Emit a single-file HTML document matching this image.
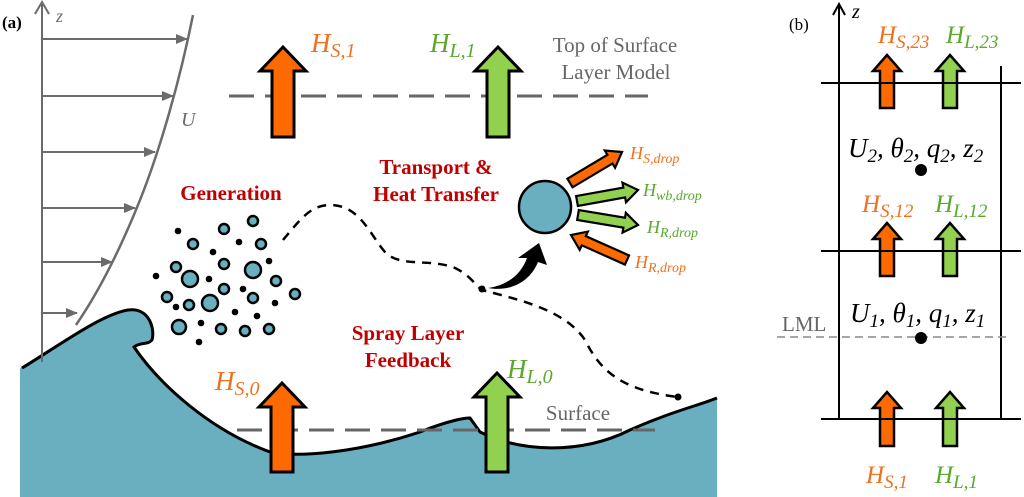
<!DOCTYPE html>
<html><head><meta charset="utf-8"><style>
html,body{margin:0;padding:0;background:#fff}
svg{display:block}
.m{font-family:"Liberation Serif",serif;font-style:italic}
.r{font-family:"Liberation Serif",serif;font-weight:bold;fill:#c00000;font-size:21px}
.g{font-family:"Liberation Serif",serif;fill:#666;font-size:21px}
</style></head><body>
<svg id="s" width="1024" height="497" viewBox="0 0 1024 497" xmlns="http://www.w3.org/2000/svg">
<defs>
<marker id="ga" markerWidth="12" markerHeight="10" refX="11" refY="5" orient="auto" markerUnits="userSpaceOnUse"><path d="M0,0 L12,5 L0,10 Z" fill="#6b6b6b"/></marker>
</defs>
<text x="2" y="28" font-family="Liberation Serif" font-weight="bold" font-size="17">(a)</text>
<path d="M20,368 C60,345 100,315 128,310 C150,307 155,330 152,340 C148,345 140,342 134,347 C160,385 210,430 270,452 C300,458 360,452 420,432 C450,420 465,418 470,418 L480,432 C520,452 580,455 630,430 C670,412 700,405 717,398 L717,497 L20,497 Z" fill="#6aafc0" stroke="none"/>
<path d="M22,368 C60,345 100,315 128,310 C150,307 155,330 152,340 C148,345 140,342 134,347 C160,385 210,430 270,452 C300,458 360,452 420,432 C450,420 465,418 470,418 L480,432 C520,452 580,455 630,430 C670,412 700,405 717,398" fill="none" stroke="#000" stroke-width="3"/>
<line x1="42" y1="362" x2="42" y2="4" stroke="#6b6b6b" stroke-width="2"/>
<path d="M35,14 L42,2 L49,14" fill="none" stroke="#6b6b6b" stroke-width="2"/>
<text class="m" x="56" y="22" font-size="18" fill="#6b6b6b">z</text>
<path d="M193,15 C180,80 160,150 140,200 C120,250 100,290 76,325" fill="none" stroke="#6b6b6b" stroke-width="2.5"/>
<text class="m" x="181" y="126" font-size="20" fill="#6b6b6b">U</text>
<g id="windarrows"></g>
<line x1="229" y1="96" x2="648" y2="96" stroke="#666" stroke-width="3" stroke-dasharray="25,11"/>
<line x1="237" y1="430" x2="655" y2="430" stroke="#666" stroke-width="3" stroke-dasharray="25,11"/>
<text class="g" x="615" y="52" text-anchor="middle">Top of Surface</text>
<text class="g" x="616" y="79" text-anchor="middle">Layer Model</text>
<text class="g" x="578" y="420" text-anchor="middle" font-size="20">Surface</text>
<g id="arrows"></g>
<g id="drops"></g>
<path d="M283,240 C300,220 310,205 330,205 C360,205 370,235 385,252 C400,268 430,258 455,268 C470,275 475,285 482,290 C520,300 565,310 585,340 C600,370 620,390 678,397" fill="none" stroke="#000" stroke-width="2.5" stroke-dasharray="9,7"/>
<circle cx="678" cy="397" r="3.5"/>
<circle cx="482" cy="289" r="3.5"/>
<path d="M488,288 C510,285 522,272 527,258 L518,258 L539,243 L547,265 L538,262 C530,282 510,292 488,288 Z" fill="#000"/>
<circle cx="545" cy="207" r="26" fill="#6aafc0" stroke="#000" stroke-width="2.5"/>
<g id="droparrows"></g>
<text class="m" x="630" y="159" font-size="18" fill="#f07020">H<tspan font-size="14" dy="4">S,drop</tspan></text>
<text class="m" x="643" y="196" font-size="18" fill="#5aa82e">H<tspan font-size="14" dy="4">wb,drop</tspan></text>
<text class="m" x="647" y="233" font-size="18" fill="#5aa82e">H<tspan font-size="14" dy="4">R,drop</tspan></text>
<text class="m" x="635" y="268" font-size="18" fill="#f07020">H<tspan font-size="14" dy="4">R,drop</tspan></text>
<text class="r" x="231" y="200" text-anchor="middle">Generation</text>
<text class="r" x="436" y="174" text-anchor="middle">Transport &amp;</text>
<text class="r" x="436" y="201" text-anchor="middle">Heat Transfer</text>
<text class="r" x="408" y="340" text-anchor="middle">Spray Layer</text>
<text class="r" x="408" y="367" text-anchor="middle">Feedback</text>
<text class="m" x="311" y="52" font-size="27" fill="#f07020">H<tspan font-size="20" dy="5">S,1</tspan></text>
<text class="m" x="430" y="52" font-size="27" fill="#5aa82e">H<tspan font-size="20" dy="5">L,1</tspan></text>
<text class="m" x="215" y="390" font-size="27" fill="#f07020">H<tspan font-size="20" dy="5">S,0</tspan></text>
<text class="m" x="507" y="378" font-size="27" fill="#5aa82e">H<tspan font-size="20" dy="5">L,0</tspan></text>
<text x="789" y="30" font-family="Liberation Serif" font-size="17">(b)</text>
<line x1="839" y1="419" x2="839" y2="5" stroke="#000" stroke-width="2"/>
<path d="M833,15 L839,4 L845,15" fill="none" stroke="#000" stroke-width="2"/>
<text class="m" x="852" y="18" font-size="20">z</text>
<line x1="821" y1="83" x2="1021" y2="83" stroke="#000" stroke-width="2"/>
<line x1="821" y1="251" x2="1021" y2="251" stroke="#000" stroke-width="2"/>
<line x1="821" y1="419" x2="1021" y2="419" stroke="#000" stroke-width="2"/>
<line x1="1001" y1="66" x2="1001" y2="419" stroke="#000" stroke-width="2"/>
<line x1="777" y1="337" x2="1010" y2="337" stroke="#888" stroke-width="1.5" stroke-dasharray="8,5"/>
<text class="g" x="782" y="331" font-size="17">LML</text>
<text class="m" x="848" y="157" font-size="27">U<tspan font-size="19" dy="5">2</tspan><tspan dy="-5">, θ</tspan><tspan font-size="19" dy="5">2</tspan><tspan dy="-5">, q</tspan><tspan font-size="19" dy="5">2</tspan><tspan dy="-5">, z</tspan><tspan font-size="19" dy="5">2</tspan></text>
<circle cx="921" cy="170" r="6"/>
<text class="m" x="850" y="322" font-size="27">U<tspan font-size="19" dy="5">1</tspan><tspan dy="-5">, θ</tspan><tspan font-size="19" dy="5">1</tspan><tspan dy="-5">, q</tspan><tspan font-size="19" dy="5">1</tspan><tspan dy="-5">, z</tspan><tspan font-size="19" dy="5">1</tspan></text>
<circle cx="921" cy="338" r="6"/>
<text class="m" x="878" y="43" font-size="25" fill="#f07020">H<tspan font-size="19" dy="5">S,23</tspan></text>
<text class="m" x="946" y="43" font-size="25" fill="#5aa82e">H<tspan font-size="19" dy="5">L,23</tspan></text>
<text class="m" x="862" y="212" font-size="25" fill="#f07020">H<tspan font-size="19" dy="5">S,12</tspan></text>
<text class="m" x="935" y="212" font-size="25" fill="#5aa82e">H<tspan font-size="19" dy="5">L,12</tspan></text>
<text class="m" x="866" y="483" font-size="25" fill="#f07020">H<tspan font-size="19" dy="5">S,1</tspan></text>
<text class="m" x="935" y="483" font-size="25" fill="#5aa82e">H<tspan font-size="19" dy="5">L,1</tspan></text>
</svg>
<script>
const NS="http://www.w3.org/2000/svg";
const OR="#ff6a00", GR="#92d050";
const windY=[39,96,152,208,262,313];
const windX=[187,173,155,135,112,77];
const bigArrows=[[283,47,137,OR],[498,47,137,GR],[282,383,472,OR],[497,373,472,GR]];
const smallArrows=[[887,55,108,OR],[950,55,108,GR],[887,223,276,OR],[950,223,276,GR],[887,392,446,OR],[950,392,446,GR]];
const dropC=[[253,221,5],[224,229,5],[193,244,5],[261,244,5],[176,267,5],[190,279,8],[224,264,5],[253,270,8],[276,281,5],[167,297,5],[189,305,5],[210,303,8],[224,289,5],[253,298,5],[295,294,5],[179,327,7],[221,329,5],[245,331,5],[269,329,5]];
const dots=[[178,231],[239,242],[213,252],[269,261],[156,276],[209,279],[243,289],[176,307],[235,312],[275,303],[201,323],[257,316],[199,342]];
const dropArrows=[[570,183,622,152,OR],[577,201,638,190,GR],[578,215,638,225,GR],[627,260,571,235,OR]];
function mk(t,a,p){const e=document.createElementNS(NS,t);for(const k in a)e.setAttribute(k,a[k]);p.appendChild(e);return e;}
const wa=document.getElementById('windarrows');
windY.forEach((y,i)=>{const l=mk('line',{x1:42,y1:y,x2:windX[i],y2:y,stroke:'#6b6b6b','stroke-width':2,'marker-end':'url(#ga)'},wa);

});
function upArrow(cx,t,b,w,hw,hh,c,p,sw){const d=`M${cx-w},${b} L${cx-w},${t+hh} L${cx-hw},${t+hh} L${cx},${t} L${cx+hw},${t+hh} L${cx+w},${t+hh} L${cx+w},${b} Z`;return mk('path',{d:d,fill:c,stroke:'#000','stroke-width':sw,'stroke-linejoin':'miter'},p);}
const ag=document.getElementById('arrows');
bigArrows.forEach(a=>{const e=upArrow(a[0],a[1],a[2],11,23,24,a[3],ag,3);

});
smallArrows.forEach(a=>{const e=upArrow(a[0],a[1],a[2],7,14,16,a[3],ag,2.5);

});
const dg=document.getElementById('drops');
dropC.forEach(d=>{const e=mk('circle',{cx:d[0],cy:d[1],r:d[2],fill:'#6aafc0',stroke:'#000','stroke-width':2.5},dg);

});
dots.forEach(d=>{const e=mk('circle',{cx:d[0],cy:d[1],r:3.3,fill:'#000'},dg);

});
const dag=document.getElementById('droparrows');
dropArrows.forEach(a=>{const [x1,y1,x2,y2,c]=a;const L=Math.hypot(x2-x1,y2-y1);const ang=Math.atan2(y2-y1,x2-x1)*180/Math.PI;
const w=5,hw=10,hh=14;const d=`M0,${-w} L${L-hh},${-w} L${L-hh},${-hw} L${L},0 L${L-hh},${hw} L${L-hh},${w} L0,${w} Z`;
const e=mk('path',{d:d,fill:c,stroke:'#000','stroke-width':2.2,transform:`translate(${x1},${y1}) rotate(${ang})`},dag);

});
</script>
</body></html>
